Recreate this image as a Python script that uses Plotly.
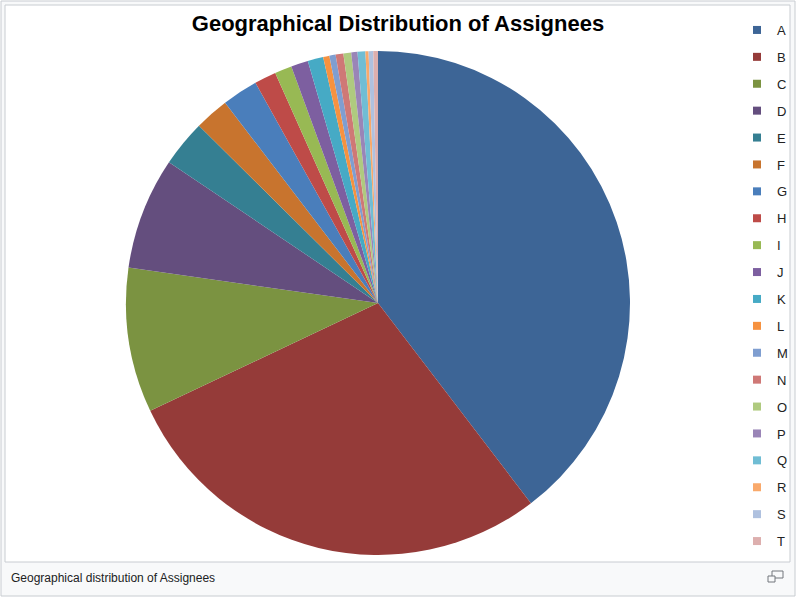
import plotly.graph_objects as go

W, H = 797, 600

labels = ["A", "B", "C", "D", "E", "F", "G", "H", "I", "J",
          "K", "L", "M", "N", "O", "P", "Q", "R", "S", "T"]
values = [397, 284, 93, 72, 30, 22, 23, 14, 11, 11,
          10, 4, 4, 5, 5, 4, 5, 2, 3, 3]
colors = ["#3D6596", "#953B39", "#7B9341", "#644E7E", "#357F92", "#C8742E",
          "#4A7EBB", "#BE4B48", "#98B954", "#7D5FA0", "#46AAC5", "#F69240",
          "#7F9ED0", "#CF7876", "#AFCA7F", "#9A85B7", "#70BDD4", "#F9A96B",
          "#AFC1DF", "#DDAFAE"]


def px_x(x):
    return x / W


def px_y(y):
    return 1 - y / H


fig = go.Figure()

# pie, starting at 12 o'clock, going clockwise
fig.add_trace(go.Pie(
    labels=labels,
    values=values,
    sort=False,
    direction="clockwise",
    rotation=0,
    marker=dict(colors=colors, line=dict(width=0)),
    textinfo="none",
    hoverinfo="label+value+percent",
    showlegend=False,
    domain=dict(x=[px_x(126), px_x(630)], y=[px_y(555), px_y(51)]),
))

# legend entries as dummy square markers so the spacing can match
for lab, col in zip(labels, colors):
    fig.add_trace(go.Scatter(
        x=[None], y=[None], mode="markers", name=lab,
        legendgroup=lab,
        marker=dict(symbol="square", size=8, color=col),
    ))

shapes = [
    # outer thumbnail box
    dict(type="rect", xref="paper", yref="paper",
         x0=px_x(1), x1=px_x(795), y0=px_y(596), y1=px_y(1),
         line=dict(color="#C8CCD1", width=1), fillcolor="#F8F9FA", layer="below"),
    # inner image box
    dict(type="rect", xref="paper", yref="paper",
         x0=px_x(5), x1=px_x(790), y0=px_y(562), y1=px_y(5),
         line=dict(color="#C8CCD1", width=1), fillcolor="#FFFFFF", layer="below"),
    # enlarge icon
    dict(type="rect", xref="paper", yref="paper",
         x0=px_x(772), x1=px_x(783), y0=px_y(578), y1=px_y(571),
         line=dict(color="#72777D", width=1), fillcolor="#F8F9FA"),
    dict(type="rect", xref="paper", yref="paper",
         x0=px_x(768), x1=px_x(775), y0=px_y(582), y1=px_y(576),
         line=dict(color="#72777D", width=1), fillcolor="#F8F9FA"),
]

fig.update_layout(
    width=W, height=H,
    margin=dict(l=0, r=0, t=0, b=0),
    paper_bgcolor="white",
    plot_bgcolor="rgba(0,0,0,0)",
    font=dict(family="Liberation Sans, Arial", color="#222222"),
    xaxis=dict(visible=False),
    yaxis=dict(visible=False),
    shapes=shapes,
    title=dict(
        text="<b>Geographical Distribution of Assignees</b>",
        x=px_x(398), xanchor="center",
        y=px_y(23), yanchor="middle",
        font=dict(size=22, color="#000000", family="Liberation Sans, Arial"),
    ),
    legend=dict(
        x=px_x(737), xanchor="left",
        y=px_y(15), yanchor="top",
        traceorder="grouped",
        tracegroupgap=7,
        font=dict(size=13, color="#222222"),
        bgcolor="rgba(0,0,0,0)",
        itemclick=False, itemdoubleclick=False,
    ),
    annotations=[dict(
        text="Geographical distribution of Assignees",
        xref="paper", yref="paper",
        x=px_x(9), xanchor="left",
        y=px_y(578), yanchor="middle",
        showarrow=False,
        font=dict(size=12, color="#202122"),
    )],
)

fig.write_html("out.html", config={"displayModeBar": False},
               post_script="document.body.style.margin='0';")
